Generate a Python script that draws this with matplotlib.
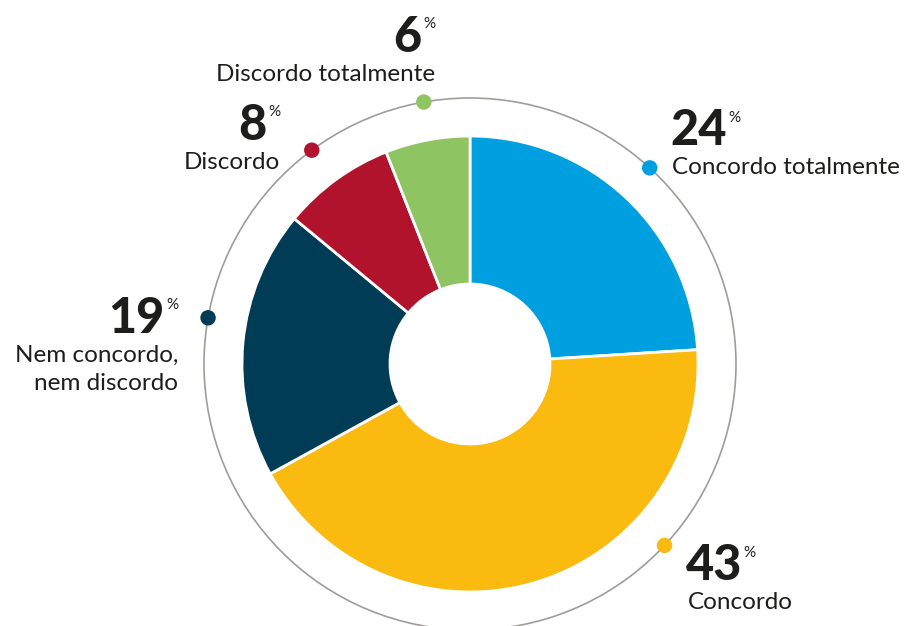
import numpy as np
import matplotlib
matplotlib.use('Agg')
import matplotlib.pyplot as plt
from matplotlib.patches import Circle

# Survey answers, clockwise from the top
labels = [['Concordo totalmente'], ['Concordo'], ['Nem concordo,', 'nem discordo'],
          ['Discordo'], ['Discordo totalmente']]
values = [24, 43, 19, 8, 6]
colors = ['#009FDF', '#FBBA10', '#003C56', '#B1132C', '#8FC463']

W, H = 905, 626
cx, cy = 470, H - 364
plt.rcParams['font.family'] = ['Lato', 'DejaVu Sans']
txt = '#1d1d1b'

fig = plt.figure(figsize=(W / 100, H / 100), dpi=100)
ax = fig.add_axes([0, 0, 1, 1])

ax.pie(values, colors=colors, startangle=90, counterclock=False, radius=228,
       center=(cx, cy), wedgeprops=dict(width=148, edgecolor='white', linewidth=2))

# thin outer ring with the marker dots
ax.add_patch(Circle((cx, cy), 266, fill=False, edgecolor='#a09d99', linewidth=1.2))
dot_angles = [47.5, -43, 170, 126.5, 100]
for ang, col in zip(dot_angles, colors):
    a = np.radians(ang)
    ax.add_patch(Circle((cx + 266 * np.cos(a), cy + 266 * np.sin(a)), 7, color=col, zorder=5))

# label positions (x, baseline y of number in px from top, alignment)
spots = [(672, 145, 'left'), (688, 580, 'left'), (178, 333, 'right'),
         (280, 140, 'right'), (435, 52, 'right')]

for (x, y, side), val, lines in zip(spots, values, labels):
    if side == 'left':
        num = ax.text(x - 2, H - y, str(val), ha='left', va='baseline', fontsize=35,
                      fontweight='black', color=txt)
        ax.annotate('%', xy=(1, 1), xycoords=num, xytext=(1, -2), textcoords='offset points',
                    ha='left', va='top', fontsize=11, color=txt)
    else:
        ax.text(x, H - y + 35, '%', ha='right', va='top', fontsize=11, color=txt)
        ax.text(x - 14, H - y, str(val), ha='right', va='baseline', fontsize=35,
                fontweight='black', color=txt)
    for i, line in enumerate(lines):
        ax.text(x, H - y - 29 - 28 * i, line, ha=side, va='baseline', fontsize=17.5,
                color=txt)

ax.set_xlim(0, W)
ax.set_ylim(0, H)
ax.set_aspect('equal')
ax.axis('off')

fig.savefig('out.png', dpi=100)
